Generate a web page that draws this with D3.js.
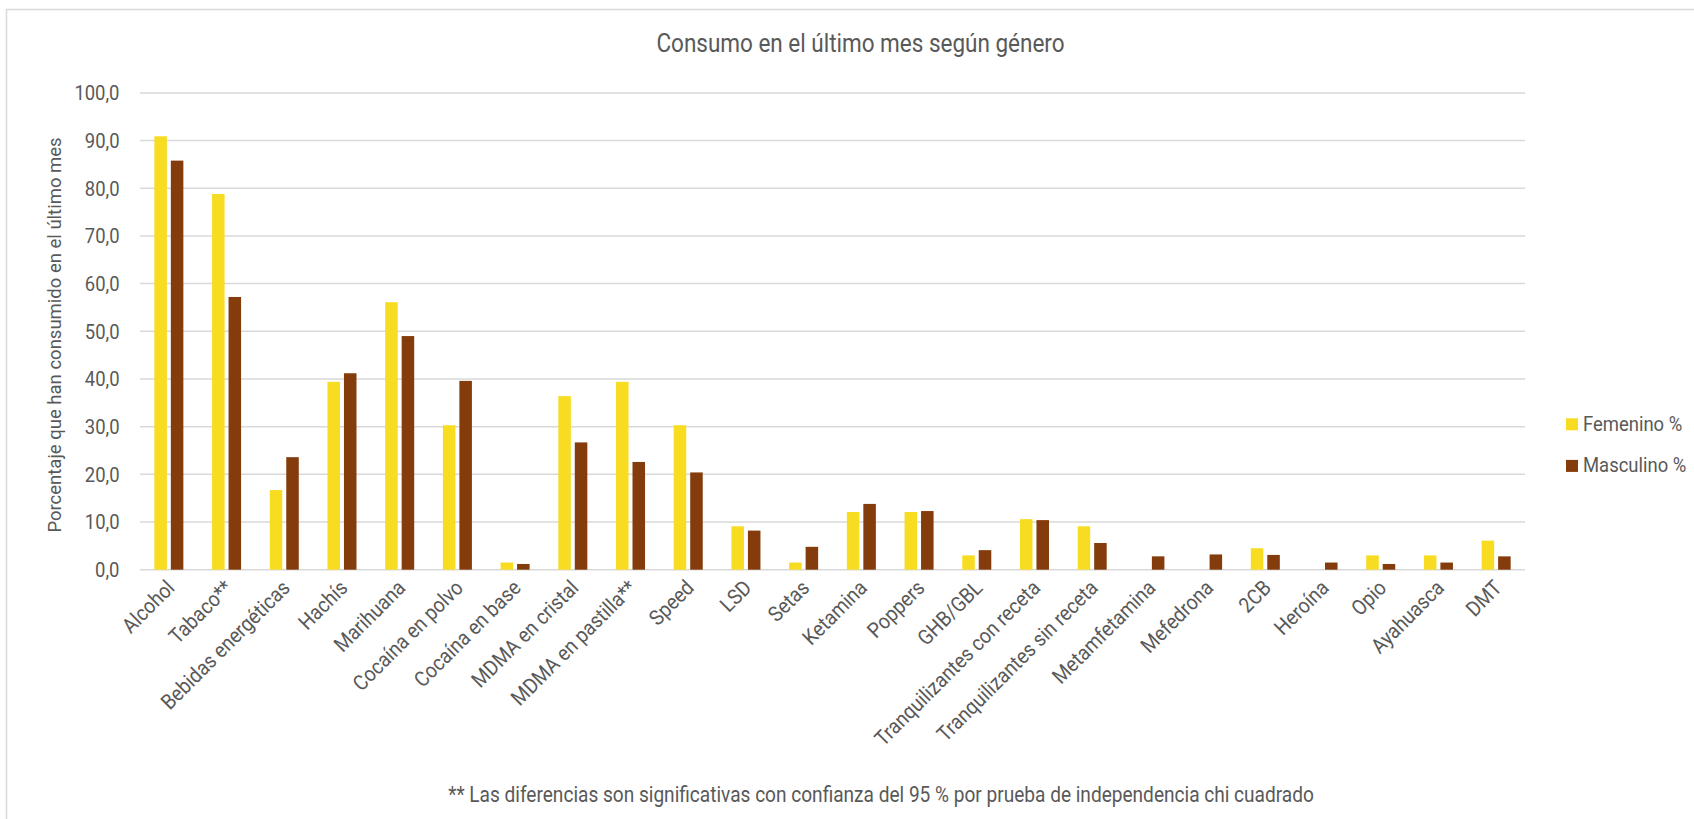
<!DOCTYPE html>
<html lang="es">
<head>
<meta charset="utf-8">
<script src="https://cdn.jsdelivr.net/npm/d3@7"></script>
<style>
  html, body { margin: 0; padding: 0; background: #fff; }
  svg { display: block; }
  text { font-family: Roboto, "Noto Sans", sans-serif; fill: #595959; }
</style>
</head>
<body>
<script>
// Consumo en el último mes, por género (%)
const categories = [
  "Alcohol", "Tabaco**", "Bebidas energéticas", "Hachís", "Marihuana",
  "Cocaína en polvo", "Cocaína en base", "MDMA en cristal", "MDMA en pastilla**",
  "Speed", "LSD", "Setas", "Ketamina", "Poppers", "GHB/GBL",
  "Tranquilizantes con receta", "Tranquilizantes sin receta", "Metamfetamina",
  "Mefedrona", "2CB", "Heroína", "Opio", "Ayahuasca", "DMT"
];
const seriesNames = ["Femenino %", "Masculino %"];
const femenino = [90.9, 78.8, 16.7, 39.4, 56.1, 30.3, 1.5, 36.4, 39.4, 30.3, 9.1, 1.5,
                  12.1, 12.1, 3.0, 10.6, 9.1, 0, 0, 4.5, 0, 3.0, 3.0, 6.1];
const masculino = [85.8, 57.2, 23.6, 41.2, 49.0, 39.6, 1.2, 26.7, 22.6, 20.4, 8.2, 4.8,
                   13.8, 12.3, 4.1, 10.4, 5.6, 2.8, 3.2, 3.1, 1.5, 1.2, 1.5, 2.8];
const yTicks = [0, 10, 20, 30, 40, 50, 60, 70, 80, 90, 100];
const titleText = "Consumo en el último mes según género";
const yAxisTitle = "Porcentaje que han consumido en el último mes";
const footnote = "** Las diferencias son significativas con confianza del 95 % por prueba de independencia chi cuadrado";

const W = 1694, H = 819;
const colors = { "Femenino %": "#F8DC22", "Masculino %": "#843C0C" };
const SX = 0.9;          // horizontal squeeze for a condensed look
const FS = 20.5;         // tick / legend font size
const FS_CAT = 21.2;     // category and footnote font size

const svg = d3.select("body").append("svg").attr("width", W).attr("height", H);

// chart frame
svg.append("rect").attr("x", 6.5).attr("y", 9.5).attr("width", W + 10).attr("height", H + 10)
  .attr("fill", "none").attr("stroke", "#D9D9D9").attr("stroke-width", 1.5);

const plot = { left: 140, right: 1525, top: 92.9, bottom: 569.7 };

const x0 = d3.scaleBand().domain(categories).range([plot.left, plot.right]).paddingInner(0).paddingOuter(0);
const x1 = d3.scaleBand().domain(seriesNames).range([0, x0.bandwidth()]).paddingInner(0.24).paddingOuter(0.87);
const y = d3.scaleLinear().domain([0, 100]).range([plot.bottom, plot.top]);

const fmt = v => d3.format(".1f")(v).replace(".", ",");

function condensed(sel, tx, ty, rot) {
  sel.attr("x", 0).attr("y", 0)
     .attr("transform", `translate(${tx},${ty})${rot ? ` rotate(${rot})` : ""} scale(${SX},1)`);
}

// gridlines
svg.append("g").selectAll("line").data(yTicks).join("line")
  .attr("x1", plot.left).attr("x2", plot.right)
  .attr("y1", d => y(d)).attr("y2", d => y(d))
  .attr("stroke", "#D9D9D9").attr("stroke-width", 1.5);

// y tick labels
svg.append("g").selectAll("text").data(yTicks).join("text")
  .attr("text-anchor", "end").style("font-size", FS + "px")
  .text(d => fmt(d))
  .each(function(d) { condensed(d3.select(this), 119.5, y(d) + 7.3); });

// bars
const rows = categories.map((c, i) => ({ cat: c, vals: [
  { s: seriesNames[0], v: femenino[i] },
  { s: seriesNames[1], v: masculino[i] }
]}));

svg.append("g").selectAll("g").data(rows).join("g")
  .attr("transform", d => `translate(${x0(d.cat)},0)`)
  .selectAll("rect").data(d => d.vals.filter(e => e.v > 0)).join("rect")
  .attr("x", d => x1(d.s)).attr("width", x1.bandwidth())
  .attr("y", d => y(d.v)).attr("height", d => y(0) - y(d.v))
  .attr("fill", d => colors[d.s]);

// category labels
svg.append("g").selectAll("text").data(categories).join("text")
  .attr("text-anchor", "end").style("font-size", FS_CAT + "px")
  .text(d => d)
  .each(function(d) {
    const cx = x0(d) + x0.bandwidth() / 2;
    condensed(d3.select(this), cx + 7, plot.bottom + 19.5, -45);
  });

// title
svg.append("text").attr("text-anchor", "middle").style("font-size", "25px")
  .text(titleText)
  .call(s => condensed(s, 860.5, 52));

// y axis title
svg.append("text").attr("text-anchor", "middle").style("font-size", "18.5px")
  .attr("transform", `translate(61,335) rotate(-90)`)
  .text(yAxisTitle);

// footnote
svg.append("text").attr("text-anchor", "middle").style("font-size", FS_CAT + "px")
  .text(footnote)
  .call(s => condensed(s, 881, 802));

// legend
const legend = svg.append("g").selectAll("g").data(seriesNames).join("g")
  .attr("transform", (d, i) => `translate(1566,${418.3 + i * 41.6})`);
legend.append("rect").attr("width", 12).attr("height", 12).attr("fill", d => colors[d]);
legend.append("text").style("font-size", FS + "px").text(d => d)
  .each(function() { condensed(d3.select(this), 17, 12.5); });
</script>
</body>
</html>
